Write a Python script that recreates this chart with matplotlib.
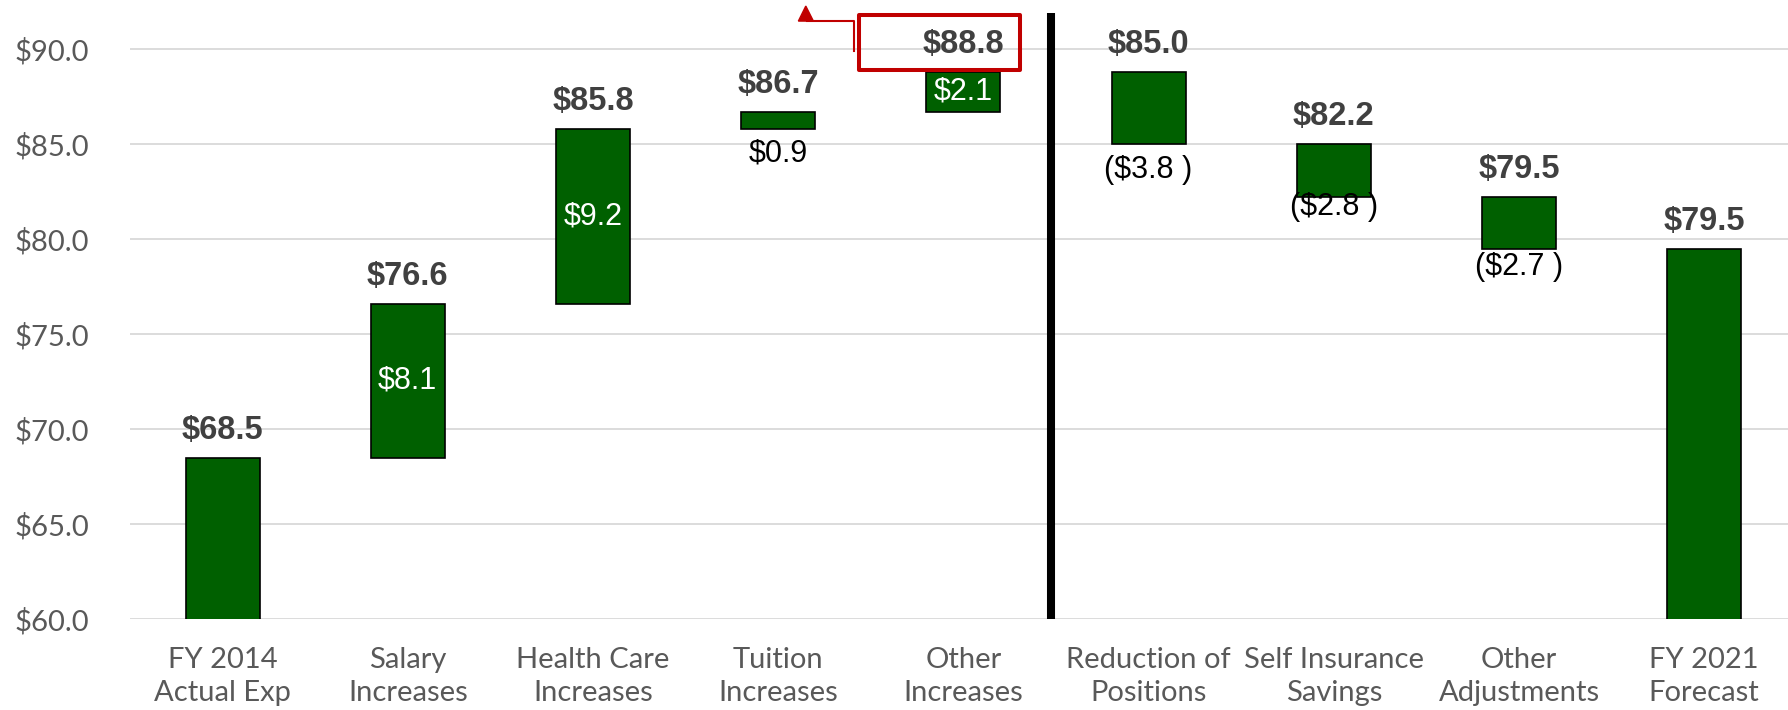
import matplotlib.pyplot as plt
from matplotlib.patches import Rectangle, Polygon

# data
categories = ['FY 2014\nActual Exp', 'Salary\nIncreases', 'Health Care\nIncreases',
              'Tuition\nIncreases', 'Other\nIncreases', 'Reduction of\nPositions',
              'Self Insurance\nSavings', 'Other\nAdjustments', 'FY 2021\nForecast']
start_value = 68.5
changes = [8.1, 9.2, 0.9, 2.1, -3.8, -2.8, -2.7]
end_value = 79.5
yticks = [60, 65, 70, 75, 80, 85, 90]

# label offsets (points) for the change labels drawn under a bar
below_offset = {3: 18, 5: 19, 6: 7, 7: 13}

green = '#006000'
red = '#c00000'
tick_grey = '#595959'
label_grey = '#404040'

fig = plt.figure(figsize=(17.88, 7.10), dpi=100)
ax = fig.add_axes([130 / 1788, 91 / 710, 1666.8 / 1788, 617.5 / 710])

# running totals
totals = [start_value]
for c in changes:
    totals.append(round(totals[-1] + c, 1))

ax.bar(0, start_value, width=0.4, color=green, edgecolor='black', linewidth=1.2, zorder=3)
ax.bar(8, end_value, width=0.4, color=green, edgecolor='black', linewidth=1.2, zorder=3)
for i, c in enumerate(changes, start=1):
    lo = min(totals[i - 1], totals[i])
    ax.bar(i, abs(c), bottom=lo, width=0.4, color=green, edgecolor='black',
           linewidth=1.2, zorder=3)

# total labels above bars
tops = [start_value] + [max(totals[i - 1], totals[i]) for i in range(1, 8)] + [end_value]
shown = totals + [end_value]
for i in range(9):
    ax.annotate('${:.1f}'.format(shown[i]), (i, tops[i]), xytext=(0, 8.5),
                textcoords='offset points', ha='center', va='bottom',
                fontsize=23.5, fontweight='bold', color=label_grey,
                family='Liberation Sans', zorder=5)

# change labels
for i, c in enumerate(changes, start=1):
    if c > 0:
        txt = '${:.1f}'.format(c)
    else:
        txt = '(${:.1f} )'.format(-c)
    lo = min(totals[i - 1], totals[i])
    if i in below_offset:
        ax.annotate(txt, (i, lo), xytext=(0, -below_offset[i]),
                    textcoords='offset points', ha='center', va='center',
                    fontsize=22, color='black', family='Liberation Sans', zorder=5)
    else:
        ax.text(i, lo + abs(c) / 2, txt, ha='center', va='center', fontsize=22,
                color='white', family='Liberation Sans', zorder=5)

# divider
ax.plot([4.475, 4.475], [60, 91.9], color='black', lw=5.8,
        solid_capstyle='butt', zorder=4, clip_on=False)

# red callout box around the peak
ax.add_patch(Rectangle((3.438, 88.895), 4.307 - 3.438, 91.79 - 88.895, fill=False,
                       edgecolor=red, linewidth=2.9, joinstyle='round',
                       zorder=6, clip_on=False))
ax.plot([3.411, 3.411, 3.157], [89.89, 91.47, 91.47], color=red, lw=1.5,
        zorder=6, clip_on=False)
ax.add_patch(Polygon([(3.109, 91.47), (3.190, 91.47), (3.149, 92.26)], closed=True,
                     color=red, zorder=6, clip_on=False))

ax.set_xlim(-0.5, 8.5)
ax.set_ylim(60, 92.5)
ax.set_yticks(yticks)
ax.set_yticklabels(['${:.1f}'.format(v) for v in yticks])
ax.set_xticks(range(9))
ax.set_xticklabels(categories, linespacing=1.35)
ax.tick_params(axis='both', length=0, labelsize=21, labelcolor=tick_grey)
ax.tick_params(axis='y', pad=29.5)
ax.tick_params(axis='x', pad=20)
for lab in ax.get_xticklabels() + ax.get_yticklabels():
    lab.set_family('Lato')
ax.grid(axis='y', color='#d9d9d9', linewidth=1.3, zorder=0)
ax.set_axisbelow(True)
for s in ax.spines.values():
    s.set_visible(False)

fig.savefig('out.png', dpi=100)
